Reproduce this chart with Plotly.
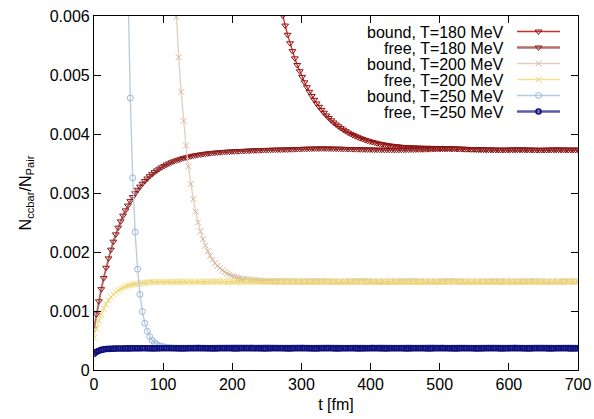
import numpy as np
import plotly.graph_objects as go

# time grid [fm]
t_fm = [round(3.5 * k, 1) for k in range(201)]

# values in units of 1e-3 (N_ccbar / N_Pair)
free180 = [
    0.700, 0.942, 1.165, 1.370, 1.559, 1.733, 1.892, 2.039, 2.175, 2.299,
    2.413, 2.519, 2.616, 2.705, 2.787, 2.862, 2.932, 2.996, 3.054, 3.108,
    3.158, 3.204, 3.246, 3.285, 3.320, 3.353, 3.383, 3.411, 3.436, 3.460,
    3.482, 3.501, 3.520, 3.537, 3.552, 3.566, 3.579, 3.591, 3.602, 3.613,
    3.622, 3.631, 3.639, 3.646, 3.653, 3.659, 3.665, 3.670, 3.675, 3.679,
    3.683, 3.687, 3.690, 3.694, 3.697, 3.699, 3.702, 3.704, 3.706, 3.708,
    3.710,
    3.712, 3.714, 3.716, 3.718, 3.720, 3.722, 3.724, 3.725, 3.727, 3.728,
    3.729, 3.731, 3.732, 3.733, 3.734, 3.735, 3.736, 3.737, 3.738, 3.739,
    3.740, 3.742, 3.743, 3.745, 3.746, 3.748, 3.749, 3.750, 3.751, 3.752,
    3.753, 3.754, 3.754, 3.755, 3.755, 3.754, 3.754, 3.753, 3.752, 3.751,
    3.750, 3.749, 3.748, 3.747, 3.746, 3.745, 3.744, 3.743, 3.742, 3.741,
    3.740, 3.739, 3.738, 3.737, 3.736, 3.735, 3.734, 3.733, 3.733, 3.732,
    3.732, 3.731, 3.731, 3.731, 3.731, 3.732, 3.732, 3.733, 3.734, 3.735,
    3.736, 3.737, 3.738, 3.739, 3.740, 3.741, 3.742, 3.743, 3.744, 3.745,
    3.746, 3.747, 3.747, 3.748, 3.748, 3.748, 3.748, 3.747, 3.747, 3.746,
    3.745, 3.744, 3.743, 3.742, 3.741, 3.740, 3.739, 3.738, 3.737, 3.736,
    3.735, 3.734, 3.733, 3.733, 3.732, 3.732, 3.731, 3.731, 3.731, 3.731,
    3.732, 3.733, 3.734, 3.734, 3.735, 3.735, 3.734, 3.734, 3.733, 3.732,
    3.731, 3.731, 3.730, 3.730, 3.730, 3.731, 3.731, 3.732, 3.733, 3.733,
    3.734, 3.734, 3.733, 3.733, 3.732, 3.732, 3.731, 3.731, 3.732, 3.732,
]

bound180 = [
    6.387, 6.190, 6.007, 5.838, 5.682, 5.538, 5.405, 5.282, 5.169, 5.063,
    4.967, 4.876, 4.793, 4.716, 4.645, 4.579, 4.518, 4.461, 4.409, 4.360,
    4.314, 4.272, 4.232, 4.195, 4.161, 4.130, 4.100, 4.073, 4.047, 4.024,
    4.002, 3.982, 3.963, 3.946,
    3.929, 3.914, 3.900, 3.887, 3.875, 3.864, 3.853, 3.843, 3.834, 3.827,
    3.819, 3.812, 3.805, 3.800, 3.795, 3.790, 3.787, 3.782, 3.780, 3.777,
    3.775, 3.773, 3.771, 3.770, 3.768, 3.767, 3.766, 3.765, 3.764, 3.764,
    3.763, 3.763, 3.763, 3.761, 3.761, 3.760, 3.759, 3.758, 3.756, 3.756,
    3.754, 3.752, 3.751, 3.749, 3.748, 3.746, 3.745, 3.743, 3.742, 3.741,
    3.739,
    3.738, 3.736, 3.735, 3.735, 3.734, 3.733, 3.732, 3.732, 3.732, 3.732,
    3.733, 3.734, 3.735, 3.735, 3.736, 3.736, 3.735, 3.734, 3.734, 3.733,
    3.732, 3.732, 3.731, 3.731, 3.731, 3.731, 3.732, 3.733, 3.733, 3.734,
    3.734, 3.735, 3.734, 3.733, 3.733, 3.732, 3.732, 3.732, 3.732, 3.733,
]

bound200 = [
    6.801, 5.988, 5.299, 4.716, 4.222, 3.804, 3.451, 3.151, 2.898, 2.683,
    2.502, 2.348, 2.218, 2.108, 2.014, 1.935, 1.869, 1.812, 1.764, 1.724,
    1.689, 1.660, 1.636, 1.615, 1.597, 1.582, 1.570, 1.559, 1.550, 1.542,
    1.536, 1.530, 1.526, 1.522, 1.518, 1.516, 1.513, 1.511, 1.509, 1.508,
    1.507, 1.506, 1.505,
    1.504, 1.503, 1.503, 1.502, 1.502, 1.501, 1.501, 1.501, 1.500, 1.500,
    1.500, 1.501, 1.501, 1.502, 1.502, 1.503, 1.503, 1.503, 1.502, 1.502,
    1.501, 1.500, 1.499, 1.498, 1.498, 1.497, 1.497, 1.498, 1.498, 1.499,
    1.500, 1.501, 1.502, 1.503, 1.504, 1.504, 1.503, 1.502, 1.501, 1.500,
    1.499, 1.498, 1.497, 1.497, 1.496, 1.496, 1.497, 1.498, 1.499, 1.500,
    1.501, 1.502, 1.502, 1.503, 1.503, 1.502, 1.502, 1.501, 1.500, 1.499,
    1.498, 1.498, 1.497, 1.497, 1.498, 1.499, 1.500, 1.501, 1.502, 1.503,
    1.503, 1.504, 1.504, 1.503, 1.502, 1.501, 1.500, 1.499, 1.498, 1.497,
    1.497, 1.496, 1.496, 1.497, 1.498, 1.499, 1.500, 1.501, 1.501, 1.502,
    1.502, 1.502, 1.501, 1.500, 1.499, 1.498, 1.498, 1.497, 1.497, 1.498,
    1.499, 1.500, 1.501, 1.502, 1.503, 1.503, 1.502, 1.501, 1.500, 1.499,
    1.498, 1.497, 1.497, 1.496, 1.497, 1.498, 1.499, 1.500, 1.501, 1.502,
    1.502, 1.501, 1.500, 1.499, 1.499,
]

free200 = [
    0.540, 0.702, 0.836, 0.948, 1.040, 1.118, 1.182, 1.236, 1.280, 1.317,
    1.348, 1.373, 1.395, 1.412, 1.427, 1.439, 1.450, 1.458, 1.465, 1.471,
    1.476, 1.480, 1.483, 1.486, 1.488, 1.490,
    1.491, 1.492, 1.493, 1.494, 1.494, 1.495, 1.495, 1.496, 1.496, 1.496,
    1.497, 1.497, 1.496, 1.496, 1.495, 1.495, 1.494, 1.494, 1.495, 1.495,
    1.496, 1.497, 1.498, 1.498, 1.499, 1.499, 1.498, 1.498, 1.497, 1.496,
    1.495, 1.494, 1.494, 1.493, 1.493, 1.494, 1.495, 1.496, 1.497, 1.498,
    1.498, 1.499, 1.499, 1.498, 1.497, 1.496, 1.495, 1.495, 1.494, 1.494,
    1.495, 1.496, 1.497, 1.498, 1.499, 1.500, 1.500, 1.499, 1.498, 1.497,
    1.496, 1.495, 1.494, 1.494, 1.493, 1.494, 1.495, 1.496, 1.497, 1.498,
    1.499, 1.499, 1.498, 1.497, 1.496, 1.495, 1.495, 1.494, 1.494, 1.495,
    1.496, 1.497, 1.498, 1.499, 1.499, 1.498, 1.497, 1.496, 1.495, 1.494,
    1.493, 1.493, 1.494, 1.495, 1.496, 1.497, 1.498, 1.498, 1.497, 1.496,
    1.495, 1.494, 1.494, 1.495, 1.496, 1.497, 1.498, 1.499, 1.499, 1.498,
    1.497, 1.496, 1.495, 1.494, 1.493, 1.493, 1.494, 1.495, 1.496, 1.497,
    1.498, 1.499, 1.499, 1.498, 1.497, 1.496, 1.495, 1.495, 1.494, 1.494,
    1.495, 1.496, 1.497, 1.498, 1.498, 1.497, 1.496, 1.495, 1.494, 1.493,
    1.493, 1.494, 1.495, 1.496, 1.497, 1.498, 1.499, 1.499, 1.498, 1.497,
    1.496, 1.495, 1.494, 1.494, 1.495, 1.496, 1.497, 1.498, 1.498, 1.497,
    1.496, 1.495, 1.494, 1.493, 1.493, 1.494, 1.495, 1.496, 1.497, 1.498,
    1.498, 1.497, 1.496, 1.495, 1.495,
]

bound250 = [
    9.510, 6.596, 4.610, 3.257, 2.336, 1.709, 1.282, 0.991, 0.793, 0.658,
    0.566, 0.504, 0.461, 0.432, 0.412, 0.399, 0.390, 0.383, 0.379, 0.376,
    0.374, 0.373,
    0.372, 0.372, 0.371, 0.371, 0.372, 0.373, 0.374, 0.375, 0.375, 0.374,
    0.373, 0.372, 0.371, 0.371, 0.372, 0.373, 0.374, 0.375, 0.376, 0.376,
    0.377, 0.377, 0.378, 0.378, 0.379, 0.379, 0.379, 0.378, 0.378, 0.377,
    0.376, 0.376, 0.375, 0.376, 0.377, 0.378, 0.379, 0.379, 0.378, 0.377,
    0.376, 0.375, 0.374, 0.374, 0.373, 0.373, 0.374, 0.375, 0.376, 0.377,
    0.377, 0.376, 0.375, 0.374, 0.373, 0.372, 0.372, 0.373, 0.374, 0.375,
    0.376, 0.377, 0.377, 0.376, 0.375, 0.374, 0.373, 0.372, 0.371, 0.371,
    0.372, 0.373, 0.374, 0.375, 0.375, 0.374, 0.373, 0.372, 0.372, 0.373,
    0.374, 0.375, 0.376, 0.377, 0.377, 0.376, 0.375, 0.374, 0.373, 0.372,
    0.372, 0.373, 0.374, 0.375, 0.376, 0.376, 0.375, 0.374, 0.373, 0.373,
    0.374, 0.375, 0.376, 0.377, 0.378, 0.378, 0.377, 0.376, 0.375, 0.374,
    0.373, 0.372, 0.372, 0.373, 0.374, 0.375, 0.376, 0.376, 0.375, 0.374,
    0.373, 0.372, 0.371, 0.371, 0.372, 0.373, 0.374, 0.375, 0.376, 0.377,
    0.377, 0.376, 0.375, 0.374, 0.373, 0.373, 0.374, 0.375, 0.376, 0.376,
    0.375, 0.374, 0.373, 0.372, 0.372, 0.373, 0.374, 0.375, 0.376, 0.377,
    0.377, 0.376, 0.375, 0.374, 0.373, 0.372, 0.372, 0.373, 0.374, 0.375,
    0.376, 0.376, 0.375, 0.374, 0.373, 0.373,
]

free250 = [
    0.275, 0.307, 0.327, 0.341, 0.349, 0.355, 0.358, 0.361, 0.362, 0.363,
    0.364, 0.365, 0.365, 0.366, 0.366, 0.366, 0.367, 0.367, 0.367, 0.367,
    0.368, 0.368, 0.367, 0.367, 0.366, 0.366, 0.367, 0.367, 0.368, 0.368,
    0.369, 0.369, 0.368, 0.368, 0.367, 0.367, 0.366, 0.366, 0.367, 0.368,
    0.368, 0.369, 0.369, 0.370, 0.369, 0.369, 0.368, 0.367, 0.367, 0.366,
    0.366, 0.367, 0.368, 0.369, 0.369, 0.368, 0.368, 0.367, 0.366, 0.366,
    0.367, 0.368, 0.368, 0.369, 0.369, 0.370, 0.369, 0.368, 0.367, 0.367,
    0.366, 0.366, 0.367, 0.367, 0.368, 0.369, 0.369, 0.368, 0.368, 0.367,
    0.366, 0.366, 0.367, 0.368, 0.369, 0.369, 0.370, 0.369, 0.368, 0.367,
    0.367, 0.366, 0.366, 0.367, 0.368, 0.368, 0.369, 0.369, 0.368, 0.367,
    0.366, 0.366, 0.367, 0.368, 0.369, 0.369, 0.368, 0.368, 0.367, 0.366,
    0.366, 0.367, 0.367, 0.368, 0.369, 0.370, 0.369, 0.368, 0.367, 0.367,
    0.366, 0.366, 0.367, 0.368, 0.368, 0.369, 0.369, 0.368, 0.367, 0.366,
    0.366, 0.367, 0.368, 0.369, 0.369, 0.368, 0.368, 0.367, 0.366, 0.366,
    0.367, 0.368, 0.369, 0.369, 0.370, 0.369, 0.368, 0.367, 0.367, 0.366,
    0.366, 0.367, 0.368, 0.368, 0.369, 0.369, 0.368, 0.367, 0.366, 0.366,
    0.367, 0.367, 0.368, 0.369, 0.369, 0.368, 0.368, 0.367, 0.366, 0.366,
    0.367, 0.368, 0.369, 0.369, 0.370, 0.369, 0.368, 0.367, 0.367, 0.366,
    0.366, 0.367, 0.368, 0.368, 0.369, 0.369, 0.368, 0.367, 0.366, 0.366,
    0.367, 0.368, 0.369, 0.369, 0.368, 0.368, 0.367, 0.366, 0.366, 0.367,
    0.368,
]

labels = ["bound, T=180 MeV", "free, T=180 MeV", "bound, T=200 MeV",
          "free, T=200 MeV", "bound, T=250 MeV", "free, T=250 MeV"]
series = [bound180, free180, bound200, free200, bound250, free250]

line_colors = ["#c8302e", "#b86c6c", "#e2cfbd", "#f2e294", "#b6cae2", "#5a5aac"]
line_widths = [1.3, 2.0, 1.3, 1.3, 1.3, 2.0]
marker_colors = ["#8e1010", "#8b1a1a", "#d4b898", "#f0d670", "#9fb8d8", "#10107c"]
marker_symbols = ["triangle-down-open", "triangle-down-open", "x-thin-open",
                  "x-thin-open", "circle-open", "circle-open"]
marker_sizes = [6, 6, 6, 6, 6, 5]
marker_lw = [1, 1, 1, 1, 1, 1.6]

FONT = "Liberation Sans, Arial, Helvetica, sans-serif"

fig = go.Figure()
for vals, lab, lc, lw, mc, ms, sz, mlw in zip(series, labels, line_colors, line_widths,
                                               marker_colors, marker_symbols,
                                               marker_sizes, marker_lw):
    tt = t_fm[len(t_fm) - len(vals):]
    y = np.array(vals) * 1e-3
    fig.add_trace(go.Scatter(
        x=tt, y=y, mode="lines+markers", name=lab, showlegend=False,
        line=dict(color=lc, width=lw),
        marker=dict(symbol=ms, size=sz, color=mc, line=dict(color=mc, width=mlw)),
    ))

# gnuplot-style key: text right-aligned, sample on the right (overlay axes in px)
PW, PH = 484, 354
for i, (lab, lc, lw, mc, ms, sz, mlw) in enumerate(zip(labels, line_colors, line_widths,
                                                        marker_colors, marker_symbols,
                                                        marker_sizes, marker_lw)):
    yy = 15.5 + 16 * i
    fig.add_trace(go.Scatter(
        x=[423, 466], y=[yy, yy], mode="lines", xaxis="x2", yaxis="y2",
        line=dict(color=lc, width=lw + 0.3), showlegend=False, hoverinfo="skip"))
    fig.add_trace(go.Scatter(
        x=[444.5], y=[yy], mode="markers", xaxis="x2", yaxis="y2",
        marker=dict(symbol=ms, size=sz, color=mc, line=dict(color=mc, width=mlw)),
        showlegend=False, hoverinfo="skip"))
    fig.add_annotation(x=412, y=yy + 0.5, xref="x2", yref="y2", text=lab,
                       showarrow=False, xanchor="right", yanchor="middle",
                       font=dict(family=FONT, size=16, color="black"))

axis_common = dict(
    showline=True, linecolor="black", linewidth=1.2, mirror="ticks",
    ticks="inside", ticklen=7, tickwidth=1, tickcolor="black",
    showgrid=False, zeroline=False,
    tickfont=dict(family=FONT, size=16, color="black"),
)

fig.update_layout(
    width=594, height=419,
    margin=dict(l=94, r=16, t=16, b=49, autoexpand=False),
    paper_bgcolor="white", plot_bgcolor="white",
    showlegend=False,
    font=dict(family=FONT, size=16, color="black"),
    xaxis=dict(range=[0, 700], dtick=100, tick0=0,
               title=dict(text="t [fm]", font=dict(family=FONT, size=16), standoff=6),
               **axis_common),
    yaxis=dict(range=[0, 0.006], dtick=0.001, tick0=0, exponentformat="none",
               title=dict(text="N<sub>ccbar</sub>/N<sub>Pair</sub>",
                          font=dict(family=FONT, size=16), standoff=14),
               **axis_common),
    xaxis2=dict(range=[0, PW], overlaying="x", visible=False, fixedrange=True),
    yaxis2=dict(range=[PH, 0], overlaying="y", visible=False, fixedrange=True),
)

fig.write_html(
    "out.html",
    config={"displayModeBar": False},
    post_script="document.body.style.margin='0';document.body.style.overflow='hidden';",
)
